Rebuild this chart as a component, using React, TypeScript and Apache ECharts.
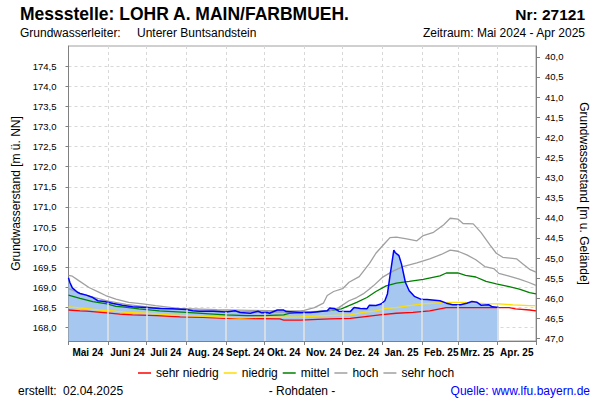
import { useEffect, useRef } from "react";
import * as echarts from "echarts";

// ---------- axis / category data ----------
const START_UTC = Date.UTC(2024, 4, 1);
const DAY_COUNT = 366; // 2024-05-01 .. 2025-05-01
const days: string[] = Array.from({ length: DAY_COUNT }, (_, i) =>
  new Date(START_UTC + i * 86400000).toISOString().slice(0, 10)
);
const monthLabels = [
  "Mai 24", "Juni 24", "Juli 24", "Aug. 24", "Sept. 24", "Okt. 24",
  "Nov. 24", "Dez. 24", "Jan. 25", "Feb. 25", "Mrz. 25", "Apr. 25",
];
const leftTicks = [168.0, 168.5, 169.0, 169.5, 170.0, 170.5, 171.0, 171.5, 172.0, 172.5, 173.0, 173.5, 174.0, 174.5];
const rightTicks = [40.0, 40.5, 41.0, 41.5, 42.0, 42.5, 43.0, 43.5, 44.0, 44.5, 45.0, 45.5, 46.0, 46.5, 47.0];

// Höhenbezug
const GELAENDE = 214.73; // Geländehöhe [m ü. NN]
const Y_MIN = 167.67;
const Y_MAX = 175.0;

// ---------- series data ----------
const rohdaten: [string, number][] = [
  ["2024-05-01", 169.24], ["2024-05-02", 169.13], ["2024-05-04", 168.99], ["2024-05-08", 168.88],
  ["2024-05-10", 168.85], ["2024-05-15", 168.81], ["2024-05-20", 168.75], ["2024-05-24", 168.67],
  ["2024-05-29", 168.65], ["2024-06-05", 168.60], ["2024-06-12", 168.56], ["2024-06-20", 168.52],
  ["2024-07-01", 168.50], ["2024-07-11", 168.48], ["2024-07-21", 168.47], ["2024-08-01", 168.45],
  ["2024-08-06", 168.42], ["2024-08-11", 168.41], ["2024-08-22", 168.41], ["2024-09-01", 168.39],
  ["2024-09-08", 168.42], ["2024-09-12", 168.38], ["2024-09-20", 168.36], ["2024-09-26", 168.41],
  ["2024-09-29", 168.37], ["2024-10-03", 168.38], ["2024-10-05", 168.36], ["2024-10-11", 168.44],
  ["2024-10-16", 168.44], ["2024-10-18", 168.40], ["2024-10-29", 168.38], ["2024-11-06", 168.38],
  ["2024-11-19", 168.42], ["2024-11-21", 168.49], ["2024-11-25", 168.47], ["2024-11-28", 168.41],
  ["2024-12-07", 168.40], ["2024-12-10", 168.50], ["2024-12-15", 168.48], ["2024-12-20", 168.47],
  ["2024-12-22", 168.56], ["2024-12-27", 168.55], ["2024-12-31", 168.59], ["2025-01-03", 168.67],
  ["2025-01-05", 168.84], ["2025-01-07", 169.29], ["2025-01-10", 169.93], ["2025-01-11", 169.87],
  ["2025-01-14", 169.79], ["2025-01-16", 169.58], ["2025-01-19", 169.13], ["2025-01-22", 168.92],
  ["2025-01-26", 168.78], ["2025-01-31", 168.71], ["2025-02-05", 168.70], ["2025-02-15", 168.67],
  ["2025-02-20", 168.61], ["2025-02-25", 168.57], ["2025-03-03", 168.57], ["2025-03-08", 168.61],
  ["2025-03-12", 168.65], ["2025-03-16", 168.63], ["2025-03-19", 168.56], ["2025-03-25", 168.57],
  ["2025-03-28", 168.52], ["2025-04-02", 168.50],
];

const sehrNiedrig: [string, number][] = [
  ["2024-05-01", 168.44], ["2024-05-10", 168.42], ["2024-05-15", 168.41], ["2024-05-31", 168.37],
  ["2024-06-10", 168.34], ["2024-06-20", 168.32], ["2024-07-09", 168.30], ["2024-07-27", 168.27],
  ["2024-08-14", 168.26], ["2024-09-01", 168.23], ["2024-10-13", 168.22], ["2024-10-16", 168.19],
  ["2024-10-29", 168.19], ["2024-11-21", 168.22], ["2024-12-07", 168.23], ["2024-12-17", 168.27],
  ["2024-12-30", 168.32], ["2025-01-12", 168.36], ["2025-01-25", 168.38], ["2025-02-07", 168.42],
  ["2025-02-15", 168.47], ["2025-02-20", 168.50], ["2025-04-10", 168.50], ["2025-04-15", 168.47],
  ["2025-04-26", 168.44], ["2025-05-01", 168.42],
];

const niedrig: [string, number][] = [
  ["2024-05-01", 168.52], ["2024-05-10", 168.49], ["2024-05-25", 168.44], ["2024-06-05", 168.42],
  ["2024-06-15", 168.38], ["2024-07-01", 168.36], ["2024-07-19", 168.32], ["2024-08-01", 168.30],
  ["2024-09-01", 168.26], ["2024-09-12", 168.24], ["2024-09-27", 168.26], ["2024-10-13", 168.26],
  ["2024-10-29", 168.27], ["2024-11-19", 168.30], ["2024-12-07", 168.32], ["2024-12-17", 168.38],
  ["2024-12-27", 168.42], ["2025-01-04", 168.48], ["2025-01-12", 168.50], ["2025-01-22", 168.55],
  ["2025-02-02", 168.59], ["2025-02-15", 168.62], ["2025-02-23", 168.63], ["2025-03-05", 168.63],
  ["2025-03-23", 168.60], ["2025-04-02", 168.59], ["2025-04-13", 168.57], ["2025-04-26", 168.55],
  ["2025-05-01", 168.55],
];

const mittel: [string, number][] = [
  ["2024-05-01", 168.81], ["2024-05-10", 168.73], ["2024-05-20", 168.65], ["2024-05-31", 168.59],
  ["2024-06-07", 168.53], ["2024-06-12", 168.52], ["2024-06-25", 168.47], ["2024-07-11", 168.42],
  ["2024-08-01", 168.38], ["2024-08-22", 168.34], ["2024-09-01", 168.32], ["2024-09-17", 168.30],
  ["2024-09-30", 168.30], ["2024-10-16", 168.32], ["2024-10-21", 168.36], ["2024-11-03", 168.38],
  ["2024-11-19", 168.42], ["2024-11-30", 168.47], ["2024-12-12", 168.63], ["2024-12-20", 168.75],
  ["2024-12-27", 168.90], ["2025-01-04", 169.04], ["2025-01-12", 169.11], ["2025-01-22", 169.15],
  ["2025-02-02", 169.20], ["2025-02-15", 169.29], ["2025-02-20", 169.36], ["2025-03-01", 169.36],
  ["2025-03-07", 169.30], ["2025-03-15", 169.26], ["2025-03-23", 169.15], ["2025-03-31", 169.09],
  ["2025-04-10", 169.02], ["2025-04-18", 168.96], ["2025-04-26", 168.87], ["2025-05-01", 168.84],
];

const hoch: [string, number][] = [
  ["2024-05-01", 168.97], ["2024-05-05", 168.92], ["2024-05-10", 168.85], ["2024-05-20", 168.76],
  ["2024-06-01", 168.66], ["2024-06-15", 168.58], ["2024-07-01", 168.52], ["2024-07-15", 168.48],
  ["2024-08-01", 168.45], ["2024-08-20", 168.43], ["2024-09-15", 168.40], ["2024-10-10", 168.39],
  ["2024-11-01", 168.39], ["2024-11-21", 168.42], ["2024-11-28", 168.50], ["2024-12-06", 168.67],
  ["2024-12-12", 168.75], ["2024-12-17", 168.84], ["2024-12-22", 168.96], ["2024-12-25", 169.04],
  ["2025-01-01", 169.25], ["2025-01-09", 169.40], ["2025-01-17", 169.52], ["2025-01-28", 169.61],
  ["2025-02-07", 169.71], ["2025-02-16", 169.82], ["2025-02-23", 169.93], ["2025-03-01", 169.90],
  ["2025-03-08", 169.81], ["2025-03-15", 169.69], ["2025-03-22", 169.52], ["2025-03-29", 169.47],
  ["2025-04-02", 169.35], ["2025-04-10", 169.28], ["2025-04-18", 169.21], ["2025-04-25", 169.13],
  ["2025-05-01", 169.05],
];

const sehrHoch: [string, number][] = [
  ["2024-05-01", 169.30], ["2024-05-04", 169.28], ["2024-05-09", 169.17], ["2024-05-17", 169.00],
  ["2024-05-25", 168.88], ["2024-05-30", 168.80], ["2024-06-07", 168.71], ["2024-06-17", 168.63],
  ["2024-06-28", 168.59], ["2024-07-08", 168.55], ["2024-07-16", 168.52], ["2024-07-26", 168.48],
  ["2024-08-06", 168.47], ["2024-08-25", 168.45], ["2024-09-20", 168.43], ["2024-10-15", 168.42],
  ["2024-10-29", 168.42], ["2024-11-01", 168.43], ["2024-11-09", 168.50], ["2024-11-16", 168.61],
  ["2024-11-19", 168.80], ["2024-11-24", 168.90], ["2024-12-01", 168.97], ["2024-12-06", 169.13],
  ["2024-12-14", 169.27], ["2024-12-22", 169.60], ["2024-12-27", 169.85], ["2025-01-03", 170.10],
  ["2025-01-07", 170.24], ["2025-01-12", 170.25], ["2025-01-20", 170.21], ["2025-01-28", 170.16],
  ["2025-02-02", 170.29], ["2025-02-10", 170.37], ["2025-02-18", 170.56], ["2025-02-23", 170.72],
  ["2025-03-01", 170.70], ["2025-03-05", 170.59], ["2025-03-13", 170.58], ["2025-03-19", 170.37],
  ["2025-03-26", 170.06], ["2025-03-31", 169.85], ["2025-04-05", 169.75], ["2025-04-16", 169.71],
  ["2025-04-21", 169.58], ["2025-04-26", 169.45], ["2025-05-01", 169.38],
];

// ---------- helpers ----------
const FONT = '"Liberation Sans", Arial, Helvetica, sans-serif';

const fmtComma = (v: number) => (+v).toFixed(1).replace(".", ",");

function valueAt(series: [string, number][], idx: number): number | null {
  for (let k = 0; k < series.length - 1; k++) {
    const a = days.indexOf(series[k][0]);
    const b = days.indexOf(series[k + 1][0]);
    if (idx >= a && idx <= b) {
      const t = b === a ? 0 : (idx - a) / (b - a);
      return series[k][1] + t * (series[k + 1][1] - series[k][1]);
    }
  }
  return null;
}

// light vertical month lines drawn over the filled area (from data)
const firstIdx = days.indexOf(rohdaten[0][0]);
const lastIdx = days.indexOf(rohdaten[rohdaten.length - 1][0]);
const fillGridLines = days
  .map((d, i) => ({ d, i }))
  .filter(({ d, i }) => d.endsWith("-01") && i > firstIdx && i <= lastIdx)
  .map(({ i }) => [
    { coord: [i, Y_MIN] },
    { coord: [i, valueAt(rohdaten, i) as number] },
  ]);

function lineSeries(name: string, data: [string, number][], color: string, width: number) {
  return {
    name,
    type: "line",
    data,
    showSymbol: false,
    symbol: "none",
    lineStyle: { color, width },
    itemStyle: { color },
    emphasis: { disabled: true },
    z: 3,
  };
}

export default function App() {
  const ref = useRef<HTMLDivElement>(null);

  useEffect(() => {
    if (!ref.current) return;
    const chart = echarts.init(ref.current, undefined, { renderer: "svg" });
    const txt = (x: number, y: number, text: string, font: string, align = "left", fill = "#000") => ({
      type: "text",
      x,
      y,
      silent: true,
      style: {
        text,
        font,
        fill,
        textAlign: align,
        align,
        textVerticalAlign: "middle",
        verticalAlign: "middle",
      },
    });

    chart.setOption({
      animation: false,
      backgroundColor: "#fff",
      textStyle: { fontFamily: FONT },
      grid: {
        left: 68.5,
        right: 64,
        top: 46,
        bottom: 59,
        show: true,
        borderColor: "#a0a0a0",
        borderWidth: 1,
        containLabel: false,
      },
      legend: {
        data: ["sehr niedrig", "niedrig", "mittel", "hoch", "sehr hoch"],
        left: 133,
        top: 362,
        icon: "rect",
        itemWidth: 13,
        itemHeight: 1.5,
        itemGap: 5,
        selectedMode: false,
        textStyle: { fontSize: 12, color: "#000", fontFamily: FONT },
      },
      xAxis: {
        type: "category",
        data: days,
        boundaryGap: false,
        axisLine: { lineStyle: { color: "#808080" } },
        axisTick: {
          show: true,
          length: 4,
          interval: (_i: number, v: string) => v.endsWith("-01"),
          lineStyle: { color: "#808080" },
        },
        axisLabel: {
          interval: (_i: number, v: string) => v.endsWith("-16"),
          formatter: (v: string) => {
            const y = +v.slice(0, 4);
            const m = +v.slice(5, 7);
            return monthLabels[(y - 2024) * 12 + m - 5] ?? "";
          },
          fontSize: 10,
          fontWeight: "bold",
          color: "#000",
          margin: 6,
          fontFamily: FONT,
        },
        splitLine: {
          show: true,
          interval: (_i: number, v: string) => v.endsWith("-01"),
          lineStyle: { color: "#d8d8d8", type: [3, 3], width: 1 },
        },
      },
      yAxis: [
        {
          type: "value",
          min: Y_MIN,
          max: Y_MAX,
          position: "left",
          name: "Grundwasserstand [m ü. NN]",
          nameLocation: "middle",
          nameGap: 40,
          nameTextStyle: { fontSize: 12, color: "#000", fontFamily: FONT },
          axisLine: { show: true, lineStyle: { color: "#808080" } },
          axisTick: { show: true, length: 3, customValues: leftTicks, lineStyle: { color: "#808080" } },
          axisLabel: {
            customValues: leftTicks,
            formatter: fmtComma,
            fontSize: 9.5,
            color: "#000",
            margin: 12,
            fontFamily: FONT,
          },
          splitLine: { show: true, lineStyle: { color: "#d8d8d8", type: [3, 3], width: 1 } },
        },
        {
          type: "value",
          min: +(GELAENDE - Y_MAX).toFixed(2),
          max: +(GELAENDE - Y_MIN).toFixed(2),
          inverse: true,
          position: "right",
          name: "Grundwasserstand [m u. Gelände]",
          nameLocation: "middle",
          nameRotate: -90,
          nameGap: 42,
          nameTextStyle: { fontSize: 12, color: "#000", fontFamily: FONT },
          axisLine: { show: true, lineStyle: { color: "#808080" } },
          axisTick: { show: true, length: 4, customValues: rightTicks, lineStyle: { color: "#808080" } },
          axisLabel: {
            customValues: rightTicks,
            formatter: fmtComma,
            fontSize: 9.5,
            color: "#000",
            margin: 9,
            fontFamily: FONT,
          },
          splitLine: { show: false },
        },
      ],
      series: [
        {
          name: "Rohdaten-Fläche",
          type: "line",
          data: rohdaten,
          showSymbol: false,
          symbol: "none",
          lineStyle: { width: 0, opacity: 0 },
          areaStyle: { color: "#a6c8f0", opacity: 1, origin: "start" },
          emphasis: { disabled: true },
          z: 1,
          markLine: {
            silent: true,
            symbol: ["none", "none"],
            label: { show: false },
            lineStyle: { color: "#e4e4e4", width: 1.5, type: "solid" },
            emphasis: { disabled: true },
            data: fillGridLines,
          },
        },
        lineSeries("sehr niedrig", sehrNiedrig, "#ff0000", 1.3),
        lineSeries("niedrig", niedrig, "#ffdd00", 1.3),
        lineSeries("mittel", mittel, "#008000", 1.3),
        lineSeries("hoch", hoch, "#a0a0a0", 1.3),
        lineSeries("sehr hoch", sehrHoch, "#a0a0a0", 1.3),
        { ...lineSeries("Rohdaten", rohdaten, "#0000ff", 1.5), z: 4 },
      ],
      graphic: [
        txt(20, 14, "Messstelle: LOHR A. MAIN/FARBMUEH.", `bold 17.5px ${FONT}`),
        txt(585, 14, "Nr: 27121", `bold 15.5px ${FONT}`, "right"),
        txt(20, 33, "Grundwasserleiter:", `12px ${FONT}`),
        txt(137, 33, "Unterer Buntsandstein", `12px ${FONT}`),
        txt(585, 33, "Zeitraum: Mai 2024 - Apr 2025", `12px ${FONT}`, "right"),
        txt(18, 391, "erstellt:", `12px ${FONT}`),
        txt(63, 391, "02.04.2025", `12px ${FONT}`),
        txt(302, 391, "- Rohdaten -", `12px ${FONT}`, "center"),
        txt(590, 391, "Quelle: www.lfu.bayern.de", `12px ${FONT}`, "right", "#0000ff"),
      ],
    });

    return () => chart.dispose();
  }, []);

  return (
    <div
      ref={ref}
      style={{ position: "fixed", left: 0, top: 0, width: 600, height: 400, background: "#fff" }}
    />
  );
}
